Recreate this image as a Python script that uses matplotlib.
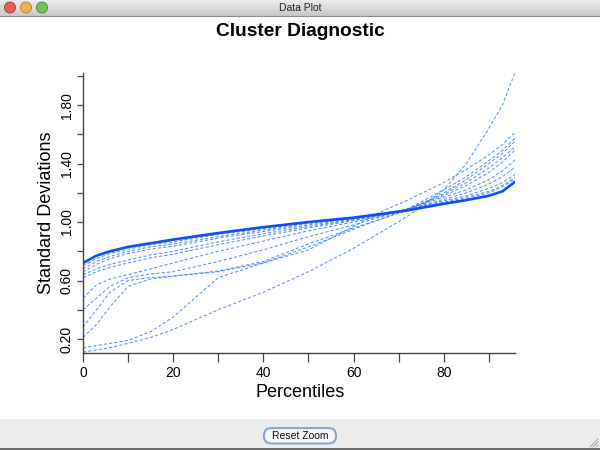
import numpy as np
import matplotlib
matplotlib.use('Agg')
import matplotlib.pyplot as plt
from matplotlib.patches import Circle, FancyBboxPatch, Rectangle

plt.rcParams['font.family'] = ['Liberation Sans', 'DejaVu Sans']
plt.rcParams['lines.scale_dashes'] = False

# percentile grid the curves were read at
percentiles = [0, 3, 6, 10, 15, 20, 30, 40, 50, 60, 66, 72, 80, 85, 90, 93, 96]

# bold curve (overall)
overall = [0.72, 0.77, 0.80, 0.83, 0.855, 0.88, 0.925, 0.965, 1.00, 1.03, 1.055, 1.08, 1.125, 1.15, 1.18, 1.21, 1.28]

# dashed curves (one per cluster)
c1 = [0.70, 0.75, 0.785, 0.815, 0.845, 0.865, 0.915, 0.955, 0.995, 1.03, 1.055, 1.085, 1.13, 1.16, 1.20, 1.24, 1.30]
c2 = [0.68, 0.73, 0.765, 0.80, 0.83, 0.85, 0.90, 0.945, 0.99, 1.025, 1.05, 1.08, 1.135, 1.17, 1.21, 1.25, 1.31]
c3 = [0.66, 0.71, 0.75, 0.785, 0.815, 0.835, 0.89, 0.935, 0.98, 1.02, 1.05, 1.085, 1.145, 1.18, 1.23, 1.27, 1.33]
c4 = [0.64, 0.68, 0.71, 0.74, 0.775, 0.80, 0.865, 0.92, 0.97, 1.015, 1.045, 1.085, 1.155, 1.20, 1.26, 1.31, 1.38]
c5 = [0.62, 0.66, 0.69, 0.72, 0.755, 0.78, 0.845, 0.905, 0.96, 1.01, 1.045, 1.09, 1.17, 1.22, 1.29, 1.35, 1.43]
c6 = [0.48, 0.57, 0.61, 0.64, 0.68, 0.72, 0.80, 0.87, 0.94, 1.00, 1.04, 1.09, 1.18, 1.25, 1.34, 1.41, 1.50]
c7 = [0.40, 0.48, 0.56, 0.62, 0.645, 0.66, 0.73, 0.81, 0.90, 0.98, 1.035, 1.09, 1.19, 1.27, 1.37, 1.44, 1.52]
c8 = [0.28, 0.40, 0.52, 0.60, 0.62, 0.63, 0.665, 0.73, 0.85, 0.96, 1.02, 1.08, 1.20, 1.29, 1.40, 1.47, 1.56]
c9 = [0.21, 0.30, 0.42, 0.56, 0.61, 0.63, 0.66, 0.72, 0.83, 0.95, 1.02, 1.09, 1.22, 1.31, 1.42, 1.49, 1.58]
c10 = [0.14, 0.155, 0.17, 0.19, 0.25, 0.35, 0.62, 0.72, 0.81, 0.97, 1.07, 1.15, 1.27, 1.36, 1.46, 1.53, 1.62]
c11 = [0.11, 0.125, 0.14, 0.17, 0.21, 0.265, 0.40, 0.52, 0.66, 0.82, 0.93, 1.04, 1.22, 1.40, 1.64, 1.80, 2.04]
clusters = [c1, c2, c3, c4, c5, c6, c7, c8, c9, c10, c11]

xticks = [0, 10, 20, 30, 40, 50, 60, 70, 80, 90]
xticklabels = ['0', '', '20', '', '40', '', '60', '', '80', '']
yticks = [0.2, 0.4, 0.6, 0.8, 1.0, 1.2, 1.4, 1.6, 1.8, 2.0]
yticklabels = ['0.20', '', '0.60', '', '1.00', '', '1.40', '', '1.80', '']

W, H = 600, 450
fig = plt.figure(figsize=(6, 4.5), dpi=100)
fig.patch.set_facecolor('white')

# window chrome, drawn in pixel coords
chrome = fig.add_axes([0, 0, 1, 1])
chrome.set_xlim(0, W)
chrome.set_ylim(H, 0)
chrome.axis('off')
grad = np.linspace(0.93, 0.78, 50).reshape(-1, 1)
chrome.imshow(grad, cmap='gray', vmin=0, vmax=1, extent=[0, W, 16, 0], aspect='auto')
chrome.plot([0, W], [16, 16], color='#8a8a8a', lw=0.8)
for cx, fc, ec in [(10, '#e0605a', '#a8302a'), (26, '#e8b450', '#b07d1e'), (42, '#78c060', '#3b8a27')]:
    chrome.add_patch(Circle((cx, 7.5), 5.5, facecolor=fc, edgecolor=ec, lw=0.6))
chrome.text(300, 8, 'Data Plot', ha='center', va='center', fontsize=7.5, color='#222222')
chrome.add_patch(Rectangle((0, 419), W, 31, facecolor='#ececec', edgecolor='none'))
chrome.plot([0, W], [448.5, 448.5], color='#555555', lw=1.2)
chrome.add_patch(FancyBboxPatch((264, 428), 72, 15.5, boxstyle='round,pad=0,rounding_size=7.5',
                                facecolor='#f6f6f6', edgecolor='#86a8cc', lw=1.5))
chrome.text(300, 436, 'Reset Zoom', ha='center', va='center', fontsize=7.5, color='#111111')
for k in range(3):
    chrome.plot([590 + 3 * k, 598], [447, 439 + 3 * k], color='#999999', lw=0.6)
chrome.set_ylim(H, 0)

fig.text(0.5, 1 - 32 / H, 'Cluster Diagnostic', ha='center', va='center',
         fontsize=13.8, fontweight='bold')

ax = fig.add_axes([83 / W, 1 - 352.7 / H, 432 / W, (352.7 - 73) / H])
ax.patch.set_alpha(0)
for c in clusters:
    ax.plot(percentiles, c, color='#3a78ff', lw=0.75, dashes=(2.3, 1.5), alpha=0.85)
ax.plot(percentiles, overall, color='#0a50f5', lw=1.9, solid_capstyle='round')

ax.set_xlim(0, 95.8)
ax.set_ylim(0.106, 2.02)
ax.set_xticks(xticks)
ax.set_xticklabels(xticklabels)
ax.set_yticks(yticks)
ax.set_yticklabels(yticklabels, rotation=90, va='center')
for s in ['top', 'right']:
    ax.spines[s].set_visible(False)
for s in ['left', 'bottom']:
    ax.spines[s].set_color('#444444')
    ax.spines[s].set_linewidth(1.0)
ax.tick_params(axis='x', direction='out', length=6.5, width=0.9, colors='#444444',
               labelcolor='black', labelsize=10, pad=3)
ax.tick_params(axis='y', direction='out', length=4, width=0.9, colors='#444444',
               labelcolor='black', labelsize=10, pad=2.5)
ax.set_xlabel('Percentiles', fontsize=13)
ax.set_ylabel('Standard Deviations', fontsize=13)
ax.xaxis.set_label_coords(0.502, -0.112)
ax.yaxis.set_label_coords(-0.065, 0.5)

fig.savefig('out.png', dpi=100)
